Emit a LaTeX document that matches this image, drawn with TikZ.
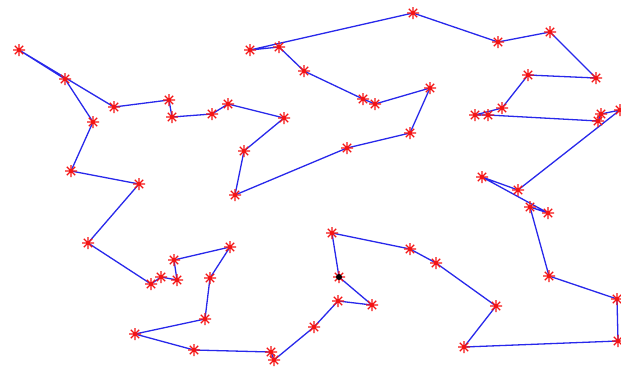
\documentclass[tikz,border=0pt]{standalone}
\usepackage{xcolor}
\definecolor{tourblue}{RGB}{40,40,235}
\definecolor{cityred}{RGB}{245,20,20}
\usetikzlibrary{positioning}

\tikzset{
  tour/.style={tourblue,line width=1.3pt,line join=round},
  citymark/.style={cityred,line width=1.2pt},
}

\begin{document}
\begin{tikzpicture}[x=1pt,y=-1pt]
  \useasboundingbox[fill=white] (0,0) rectangle (621,368);
  % cities in tour order, starting at the black one
  \foreach \x/\y [count=\i] in {
    339/277, 332/233, 410/249, 436/263, 496/306, 464/347, 618/341, 617/299,
    549/276, 530/207, 548/213, 482/177, 518/190, 620/110, 601/114, 598/121,
    488/115, 475/115, 502/108, 528/75, 596/78, 550/32, 498/42, 413/13,
    250/50, 279/47, 304/71, 363/99, 375/104, 430/88, 410/133, 347/148,
    235/195, 244/151, 284/118, 228/104, 212/114, 172/117, 169/100, 114/107,
    19/50, 65/79, 93/122, 71/171, 139/184, 88/243, 151/284, 161/277,
    177/280, 174/260, 230/247, 210/278, 205/319, 135/334, 194/350, 271/352,
    274/360, 314/327, 338/301, 372/305}
    \coordinate (c\i) at (\x,\y);
  \draw[tour] (c1) \foreach \i in {2,...,60} {-- (c\i)} -- cycle;
  \foreach \i in {1,...,60}
    \draw[citymark] (c\i) +(-6,0) -- +(6,0) +(0,-6) -- +(0,6)
      +(-4.2,-4.2) -- +(4.2,4.2) +(-4.2,4.2) -- +(4.2,-4.2);
  \fill[black] (c1) circle (3);
\end{tikzpicture}
\end{document}
